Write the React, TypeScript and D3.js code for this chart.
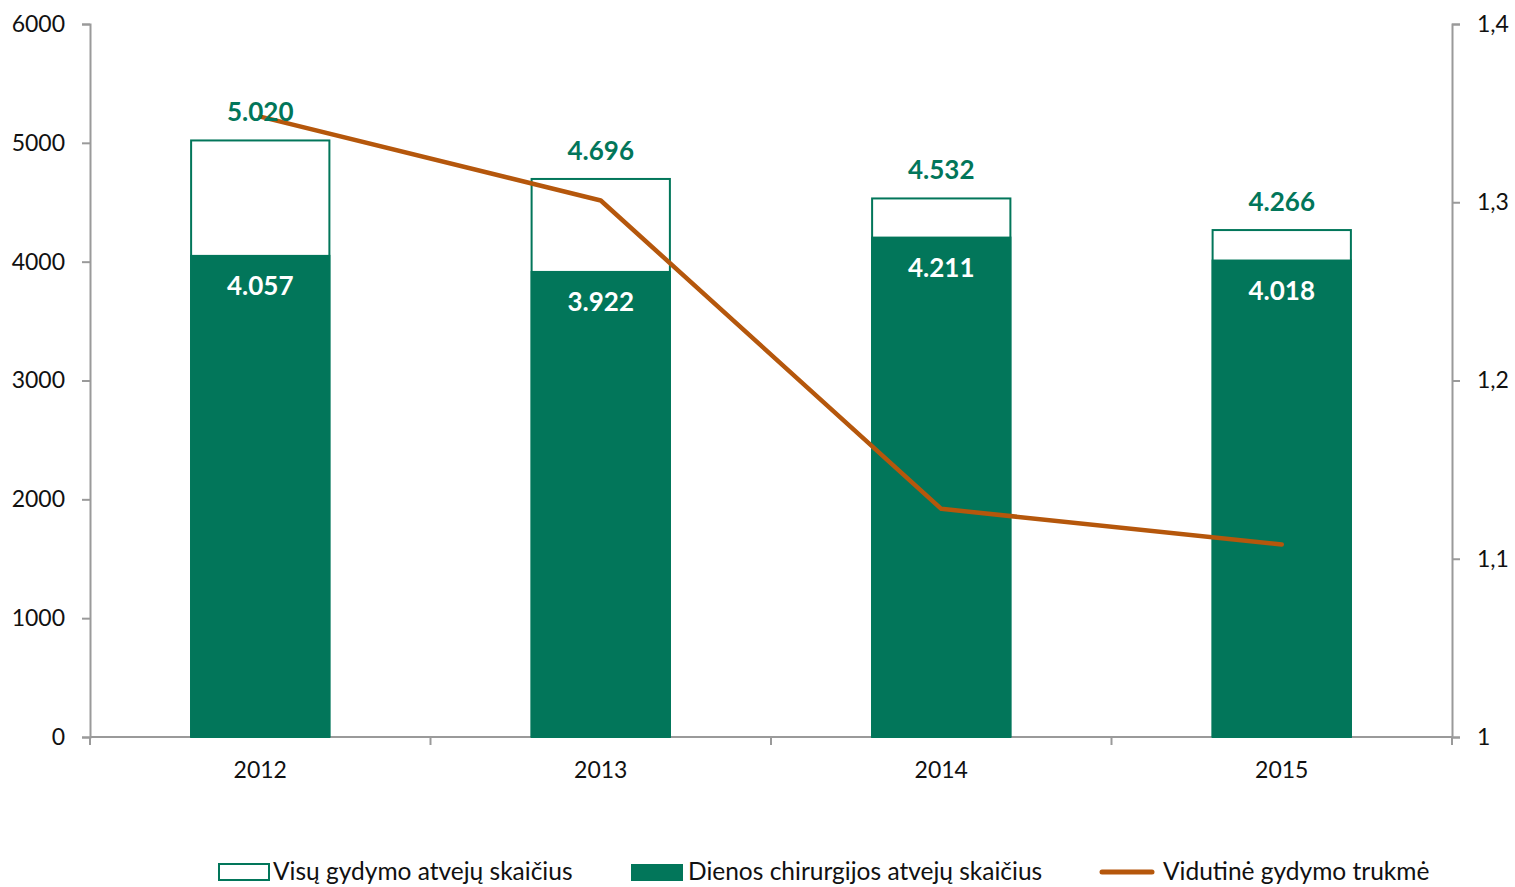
import React, { useEffect, useRef } from "react";
import * as d3 from "d3";

// chart data
const years = ["2012", "2013", "2014", "2015"];
const totalCases = [5020, 4696, 4532, 4266];
const daySurgeryCases = [4057, 3922, 4211, 4018];
const avgDuration = [1.348, 1.301, 1.128, 1.108];
const leftTicks = [0, 1000, 2000, 3000, 4000, 5000, 6000];
const rightTicks = [1, 1.1, 1.2, 1.3, 1.4];
const legendLabels = [
  "Visų gydymo atvejų skaičius",
  "Dienos chirurgijos atvejų skaičius",
  "Vidutinė gydymo trukmė",
];

const GREEN = "#02765A";
const ORANGE = "#B5570C";
const AXIS = "#9a9a9a";
const FONT = "Lato, 'Open Sans', sans-serif";

const fmt = (v: number) => d3.format(",")(v).replace(",", ".");

export default function App() {
  const ref = useRef<SVGSVGElement>(null);

  useEffect(() => {
    document.body.style.margin = "0";
    document.body.style.overflow = "hidden";

    const svg = d3.select(ref.current);
    svg.selectAll("*").remove();

    const left = 90, right = 1452, top = 24, bottom = 737;

    const x = d3.scaleBand().domain(years).range([left, right]).paddingInner(0.588).paddingOuter(0.294);
    const y = d3.scaleLinear().domain([0, 6000]).range([bottom, top]);
    const y2 = d3.scaleLinear().domain([1, 1.4]).range([bottom, top]);

    // left axis
    const gl = svg.append("g").attr("transform", `translate(${left},0)`)
      .call(d3.axisLeft(y).tickValues(leftTicks).tickSize(8).tickPadding(17).tickFormat(d3.format("d")));
    // right axis
    const gr = svg.append("g").attr("transform", `translate(${right},0)`)
      .call(d3.axisRight(y2).tickValues(rightTicks).tickSize(8).tickPadding(17)
        .tickFormat((d: any) => (d === 1 ? "1" : d3.format(".1f")(d).replace(".", ","))));
    // bottom axis, ticks at category boundaries
    const step = x.step();
    const boundaries = d3.range(years.length + 1).map((i) => left + i * step);
    const gb = svg.append("g");
    gb.append("line").attr("x1", left).attr("x2", right).attr("y1", bottom).attr("y2", bottom);
    gb.selectAll("line.t").data(boundaries).enter().append("line").attr("class", "t")
      .attr("x1", (d) => d).attr("x2", (d) => d).attr("y1", bottom).attr("y2", bottom + 8);
    gb.selectAll("line").attr("stroke", AXIS).attr("stroke-width", 2);
    gb.selectAll("text").data(years).enter().append("text")
      .attr("x", (d) => x(d)! + x.bandwidth() / 2).attr("y", bottom + 41)
      .attr("text-anchor", "middle").attr("font-size", 23).attr("font-family", FONT).attr("fill", "#111")
      .text((d) => d);

    [gl, gr].forEach((g) => {
      g.select(".domain").attr("stroke", AXIS).attr("stroke-width", 2);
      g.selectAll(".tick line").attr("stroke", AXIS).attr("stroke-width", 2);
      g.selectAll(".tick text").attr("font-size", 23).attr("font-family", FONT).attr("fill", "#111");
    });

    // total bars (outlined)
    svg.append("g").selectAll("rect").data(years).enter().append("rect")
      .attr("x", (d) => x(d)! + 1).attr("width", x.bandwidth() - 2)
      .attr("y", (d, i) => y(totalCases[i])).attr("height", (d, i) => bottom - y(totalCases[i]))
      .attr("fill", "#fff").attr("stroke", GREEN).attr("stroke-width", 2);

    // day surgery bars
    svg.append("g").selectAll("rect").data(years).enter().append("rect")
      .attr("x", (d) => x(d)!).attr("width", x.bandwidth())
      .attr("y", (d, i) => y(daySurgeryCases[i])).attr("height", (d, i) => bottom - y(daySurgeryCases[i]))
      .attr("fill", GREEN);

    // average duration line
    const line = d3.line<number>()
      .x((d, i) => x(years[i])! + x.bandwidth() / 2)
      .y((d) => y2(d));
    svg.append("path").datum(avgDuration).attr("d", line)
      .attr("fill", "none").attr("stroke", ORANGE).attr("stroke-width", 4.5)
      .attr("stroke-linecap", "round").attr("stroke-linejoin", "round");

    // value labels
    svg.append("g").selectAll("text").data(years).enter().append("text")
      .attr("x", (d) => x(d)! + x.bandwidth() / 2).attr("y", (d, i) => y(totalCases[i]) - 19)
      .attr("text-anchor", "middle").attr("font-size", 26).attr("font-weight", "bold")
      .attr("font-family", FONT).attr("fill", GREEN)
      .text((d, i) => fmt(totalCases[i]));
    svg.append("g").selectAll("text").data(years).enter().append("text")
      .attr("x", (d) => x(d)! + x.bandwidth() / 2).attr("y", (d, i) => y(daySurgeryCases[i]) + 40)
      .attr("text-anchor", "middle").attr("font-size", 26).attr("font-weight", "bold")
      .attr("font-family", FONT).attr("fill", "#fff")
      .text((d, i) => fmt(daySurgeryCases[i]));

    // legend
    const ly = 872;
    const lg = svg.append("g").attr("font-family", FONT).attr("font-size", 24.5).attr("fill", "#111");
    lg.append("rect").attr("x", 219).attr("y", ly - 8).attr("width", 50).attr("height", 16)
      .attr("fill", "#fff").attr("stroke", GREEN).attr("stroke-width", 2);
    lg.append("text").attr("x", 273).attr("y", ly + 8).text(legendLabels[0]);
    lg.append("rect").attr("x", 631).attr("y", ly - 8).attr("width", 52).attr("height", 17).attr("fill", GREEN);
    lg.append("text").attr("x", 688).attr("y", ly + 8).text(legendLabels[1]);
    lg.append("line").attr("x1", 1102).attr("x2", 1152).attr("y1", ly).attr("y2", ly)
      .attr("stroke", ORANGE).attr("stroke-width", 5).attr("stroke-linecap", "round");
    lg.append("text").attr("x", 1163).attr("y", ly + 8).text(legendLabels[2]);
  }, []);

  return <svg ref={ref} width={1515} height={887} style={{ display: "block", background: "#fff" }} />;
}
